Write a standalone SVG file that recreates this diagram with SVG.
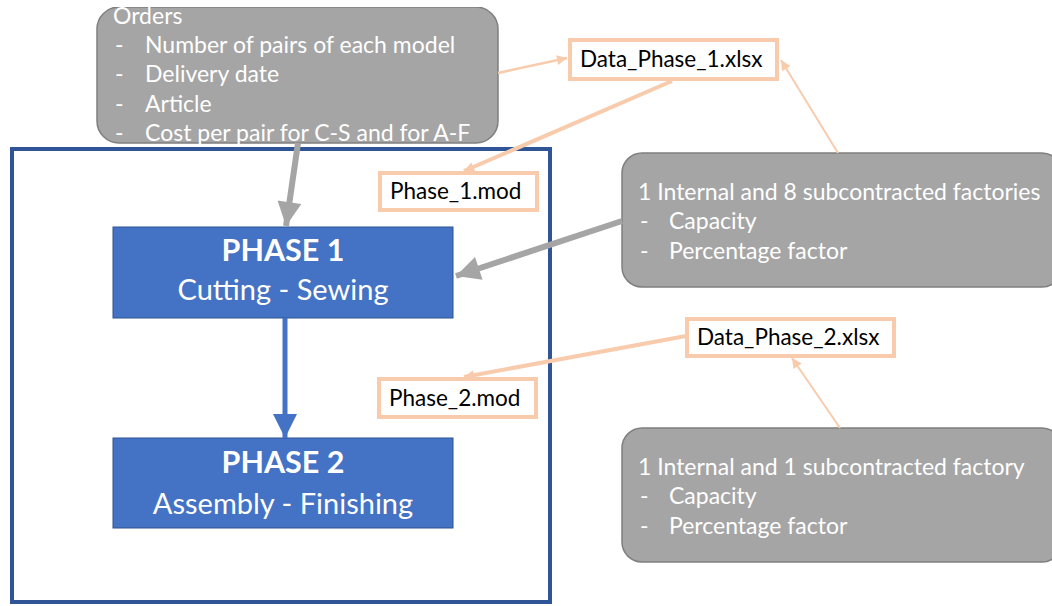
<svg xmlns="http://www.w3.org/2000/svg" width="1052" height="606" viewBox="0 0 1052 606">
<defs>
<style>
.gray{fill:#a5a5a5;stroke:#7f7f7f;stroke-width:1.5}
.blue{fill:#4472c4;stroke:#2f528f;stroke-width:1}
.file{fill:#ffffff;stroke:#f8cbad;stroke-width:4}
.wt{font-family:Lato,"Open Sans",sans-serif;font-size:23px;fill:#ffffff}
.ft{font-family:Lato,"Open Sans",sans-serif;font-size:22.5px;fill:#000000}
.bt{font-family:Lato,"Open Sans",sans-serif;font-size:29px;fill:#ffffff;text-anchor:middle}
.bb{font-size:30.5px;font-weight:bold}
.pe{stroke:#f8cbad;fill:none}
</style>
<marker id="ap" viewBox="0 0 10 10" refX="10" refY="5" markerWidth="12" markerHeight="10" markerUnits="userSpaceOnUse" orient="auto"><path d="M0,0 L10,5 L0,10 z" fill="#f8cbad"/></marker>
<marker id="ag" viewBox="0 0 10 10" refX="10" refY="5" markerWidth="26" markerHeight="24" markerUnits="userSpaceOnUse" orient="auto"><path d="M0,0 L10,5 L0,10 z" fill="#a5a5a5"/></marker>
<marker id="ab" viewBox="0 0 10 10" refX="10" refY="5" markerWidth="24" markerHeight="26" markerUnits="userSpaceOnUse" orient="auto"><path d="M0,0 L10,5 L0,10 z" fill="#4472c4"/></marker>
<clipPath id="top"><rect x="0" y="7" width="1052" height="599"/></clipPath>
</defs>
<rect width="1052" height="606" fill="#ffffff"/>
<g id="frame"><rect x="12" y="149" width="538" height="453" fill="none" stroke="#2f5597" stroke-width="4"/></g>
<g id="orders" clip-path="url(#top)">
<rect class="gray" x="97" y="7" width="401" height="136" rx="22"/>
<text class="wt" x="113" y="24">Orders</text>
<text class="wt" x="115" y="53">-</text><text class="wt" x="145" y="53">Number of pairs of each model</text>
<text class="wt" x="115" y="82">-</text><text class="wt" x="145" y="82">Delivery date</text>
<text class="wt" x="115" y="112">-</text><text class="wt" x="145" y="112">Article</text>
<text class="wt" x="115" y="141">-</text><text class="wt" x="145" y="141">Cost per pair for C-S and for A-F</text>
</g>
<g id="factories1">
<rect class="gray" x="622" y="153" width="440" height="134" rx="20"/>
<text class="wt" x="638" y="200">1 Internal and 8 subcontracted factories</text>
<text class="wt" x="640" y="229">-</text><text class="wt" x="669" y="229">Capacity</text>
<text class="wt" x="640" y="259">-</text><text class="wt" x="669" y="259">Percentage factor</text>
</g>
<g id="factories2">
<rect class="gray" x="622" y="428" width="440" height="134" rx="20"/>
<text class="wt" x="638" y="475">1 Internal and 1 subcontracted factory</text>
<text class="wt" x="640" y="504">-</text><text class="wt" x="669" y="504">Capacity</text>
<text class="wt" x="640" y="534">-</text><text class="wt" x="669" y="534">Percentage factor</text>
</g>
<g id="phase1">
<rect class="blue" x="113" y="227" width="340" height="91"/>
<text class="bt bb" x="283" y="261">PHASE 1</text>
<text class="bt" x="283" y="300">Cutting - Sewing</text>
</g>
<g id="phase2">
<rect class="blue" x="113" y="438" width="340" height="90"/>
<text class="bt bb" x="283" y="473">PHASE 2</text>
<text class="bt" x="283" y="514">Assembly - Finishing</text>
</g>
<g id="data1"><rect class="file" x="570" y="40" width="207" height="39"/><text class="ft" x="580" y="67">Data_Phase_1.xlsx</text></g>
<g id="mod1"><rect class="file" x="380" y="173" width="157" height="37"/><text class="ft" x="390" y="199">Phase_1.mod</text></g>
<g id="data2"><rect class="file" x="687" y="319" width="207" height="37"/><text class="ft" x="697" y="345">Data_Phase_2.xlsx</text></g>
<g id="mod2"><rect class="file" x="379" y="379" width="157" height="38"/><text class="ft" x="389" y="406">Phase_2.mod</text></g>
<g id="connectors">
<line class="pe" x1="498" y1="73" x2="567" y2="58" stroke-width="2.5" marker-end="url(#ap)"/>
<line class="pe" x1="672" y1="81" x2="464" y2="171" stroke-width="4" marker-end="url(#ap)"/>
<line class="pe" x1="838" y1="153" x2="781" y2="60" stroke-width="2" marker-end="url(#ap)"/>
<line class="pe" x1="686" y1="336" x2="464" y2="377" stroke-width="4" marker-end="url(#ap)"/>
<line class="pe" x1="840" y1="428" x2="792" y2="358" stroke-width="2" marker-end="url(#ap)"/>
<line x1="298" y1="143" x2="286" y2="226" stroke="#a5a5a5" stroke-width="6" marker-end="url(#ag)"/>
<line x1="622" y1="221" x2="456" y2="276" stroke="#a5a5a5" stroke-width="6" marker-end="url(#ag)"/>
<line x1="285" y1="318" x2="285" y2="438" stroke="#4472c4" stroke-width="5" marker-end="url(#ab)"/>
</g>
</svg>
